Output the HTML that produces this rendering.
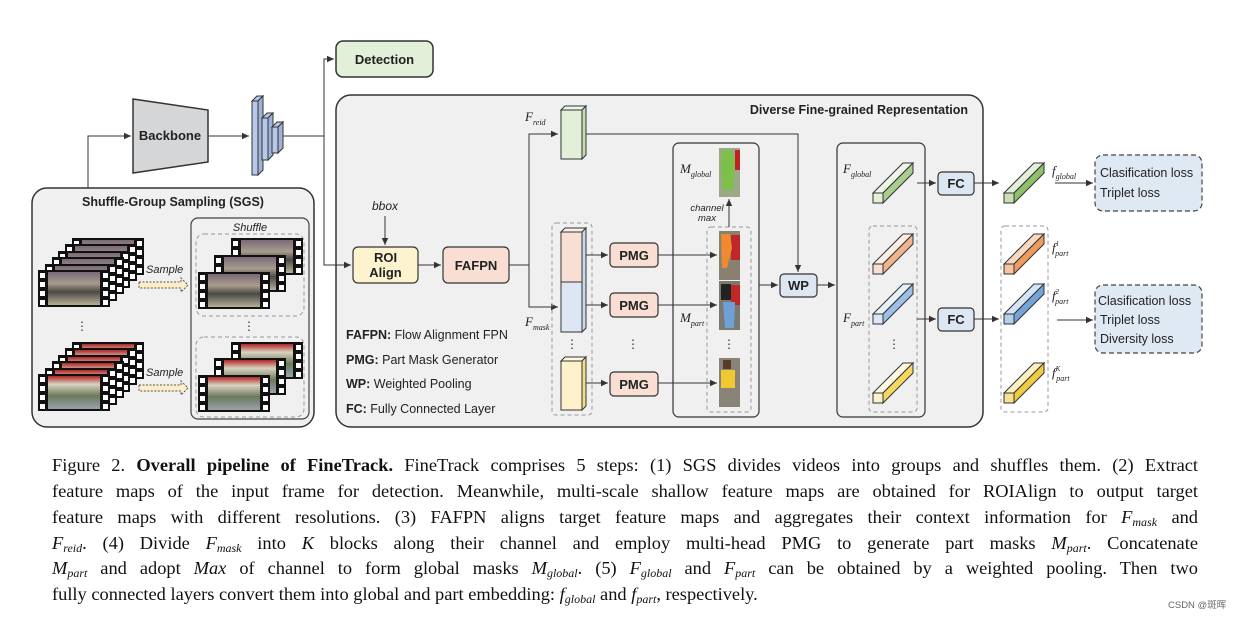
<!DOCTYPE html>
<html><head><meta charset="utf-8"><style>
body{margin:0;background:#fff;width:1248px;height:618px;overflow:hidden;position:relative}
svg{position:absolute;left:0;top:0}
.t{font-family:"Liberation Sans",sans-serif}
.cap{position:absolute;left:52px;width:1146px;font-family:"Liberation Serif",serif;font-size:18.4px;color:#111;text-align:justify;text-align-last:justify;white-space:nowrap;line-height:26px}
.cap i{font-style:italic}
.cap sub{font-size:12px;font-style:italic;vertical-align:-3px;line-height:0}
</style></head><body>
<svg width="1248" height="618" viewBox="0 0 1248 618">
<defs>
<marker id="a" markerWidth="8" markerHeight="8" refX="7" refY="4" orient="auto" markerUnits="userSpaceOnUse"><path d="M0,0.8 L7,4 L0,7.2z" fill="#333"/></marker>
<linearGradient id="img1" x1="0" y1="0" x2="0" y2="1"><stop offset="0" stop-color="#7a6a78"/><stop offset="0.35" stop-color="#a89c8c"/><stop offset="0.6" stop-color="#4a4a44"/><stop offset="1" stop-color="#b8ad98"/></linearGradient>
<linearGradient id="img2" x1="0" y1="0" x2="0" y2="1"><stop offset="0" stop-color="#b02828"/><stop offset="0.25" stop-color="#d9d2c0"/><stop offset="0.6" stop-color="#6b7a5a"/><stop offset="1" stop-color="#9aa2ac"/></linearGradient>
<symbol id="f1" viewBox="0 0 72 37" width="72" height="37"><rect width="72" height="37" fill="#111"/><rect x="10" y="2" width="52" height="33" fill="url(#img1)"/><g fill="#fff"><rect x="2" y="3" width="5" height="5"/><rect x="2" y="12" width="5" height="5"/><rect x="2" y="21" width="5" height="5"/><rect x="2" y="30" width="5" height="5"/><rect x="65" y="3" width="5" height="5"/><rect x="65" y="12" width="5" height="5"/><rect x="65" y="21" width="5" height="5"/><rect x="65" y="30" width="5" height="5"/></g></symbol>
<symbol id="f2" viewBox="0 0 72 37" width="72" height="37"><rect width="72" height="37" fill="#111"/><rect x="10" y="2" width="52" height="33" fill="url(#img2)"/><g fill="#fff"><rect x="2" y="3" width="5" height="5"/><rect x="2" y="12" width="5" height="5"/><rect x="2" y="21" width="5" height="5"/><rect x="2" y="30" width="5" height="5"/><rect x="65" y="3" width="5" height="5"/><rect x="65" y="12" width="5" height="5"/><rect x="65" y="21" width="5" height="5"/><rect x="65" y="30" width="5" height="5"/></g></symbol>
</defs>

<rect x="32" y="188" width="282" height="239" rx="15" fill="#f0f0f0" stroke="#333" stroke-width="1.5"/>
<rect x="336" y="95" width="647" height="332" rx="15" fill="#f0f0f0" stroke="#333" stroke-width="1.5"/>
<rect x="336" y="41" width="97" height="36" rx="7" fill="#e2efd9" stroke="#333" stroke-width="1.5"/>
<text x="384.5" y="64" class="t" font-size="13" font-weight="bold" text-anchor="middle" fill="#222">Detection</text>

<polygon points="133,99 208,110 208,162 133,173" fill="#d5d6d8" stroke="#333" stroke-width="1.5"/>
<text x="170" y="140" class="t" font-size="13" font-weight="bold" text-anchor="middle" fill="#222">Backbone</text>
<path d="M88,188 V136 H131" fill="none" stroke="#333" marker-end="url(#a)"/>
<path d="M208,136 H249" fill="none" stroke="#333" marker-end="url(#a)"/>
<g stroke="#333" stroke-width="1" fill="#b8c8e8">
<polygon points="252,101 257,96 263,96 258,101"/><polygon points="258,101 263,96 263,170 258,175" fill="#9fb2d8"/><rect x="252" y="101" width="6" height="74"/>
<polygon points="262,118 267,113 273,113 268,118"/><polygon points="268,118 273,113 273,155 268,160" fill="#9fb2d8"/><rect x="262" y="118" width="6" height="42"/>
<polygon points="272,127 277,122 283,122 278,127"/><polygon points="278,127 283,122 283,148 278,153" fill="#9fb2d8"/><rect x="272" y="127" width="6" height="26"/>
</g>
<path d="M283,136 H324 M324,136 V59 H334" fill="none" stroke="#333" marker-end="url(#a)"/>
<path d="M324,136 V265 H351" fill="none" stroke="#333" marker-end="url(#a)"/>

<text x="173" y="206" class="t" font-size="12.5" font-weight="bold" text-anchor="middle" fill="#222">Shuffle-Group Sampling (SGS)</text>
<rect x="191" y="218" width="118" height="201" rx="7" fill="none" stroke="#444" stroke-width="1.2"/>
<text x="250" y="231" class="t" font-size="11" font-style="italic" text-anchor="middle" fill="#222">Shuffle</text>
<rect x="196" y="234" width="108" height="82" rx="8" fill="none" stroke="#999" stroke-dasharray="4,3"/>
<rect x="196" y="337" width="108" height="80" rx="8" fill="none" stroke="#999" stroke-dasharray="4,3"/>
<use href="#f1" x="72" y="238"/><use href="#f1" x="65" y="244"/><use href="#f1" x="58" y="251"/><use href="#f1" x="52" y="257"/><use href="#f1" x="45" y="264"/><use href="#f1" x="38" y="270"/>
<use href="#f2" x="72" y="342"/><use href="#f2" x="65" y="348"/><use href="#f2" x="58" y="355"/><use href="#f2" x="52" y="361"/><use href="#f2" x="45" y="368"/><use href="#f2" x="38" y="374"/>
<use href="#f1" x="231" y="238"/><use href="#f1" x="214" y="255"/><use href="#f1" x="198" y="272"/>
<use href="#f2" x="231" y="342"/><use href="#f2" x="214" y="358"/><use href="#f2" x="198" y="375"/>
<g font-size="11" font-style="italic" class="t" fill="#222"><text x="146" y="273">Sample</text><text x="146" y="376">Sample</text></g>
<polygon points="139,282 181,282 181,278 188,285 181,292 181,288 139,288" fill="#fbeec8" stroke="#555" stroke-dasharray="2,1.5"/>
<polygon points="139,385 181,385 181,381 188,388 181,395 181,391 139,391" fill="#fbeec8" stroke="#555" stroke-dasharray="2,1.5"/>
<g fill="#333" font-size="12" class="t" text-anchor="middle"><text x="82" y="330">⋮</text><text x="249" y="330">⋮</text></g>

<text x="385" y="210" class="t" font-size="12" font-style="italic" text-anchor="middle" fill="#222">bbox</text>
<path d="M385,216 V245" fill="none" stroke="#333" marker-end="url(#a)"/>
<rect x="353" y="247" width="65" height="36" rx="5" fill="#fdf3cf" stroke="#333" stroke-width="1.2"/>
<text x="385.5" y="262" class="t" font-size="13" font-weight="bold" text-anchor="middle" fill="#222">ROI</text>
<text x="385.5" y="277" class="t" font-size="13" font-weight="bold" text-anchor="middle" fill="#222">Align</text>
<path d="M418,265 H441" fill="none" stroke="#333" marker-end="url(#a)"/>
<rect x="443" y="247" width="66" height="36" rx="5" fill="#f9dfd3" stroke="#333" stroke-width="1.2"/>
<text x="476" y="270" class="t" font-size="13" font-weight="bold" text-anchor="middle" fill="#222">FAFPN</text>
<path d="M509,265 H529 M529,265 V134 H558" fill="none" stroke="#333" marker-end="url(#a)"/>
<path d="M529,265 V307 H558" fill="none" stroke="#333" marker-end="url(#a)"/>
<g class="t" font-size="12.5" fill="#222">
<text x="346" y="339"><tspan font-weight="bold">FAFPN:</tspan> Flow Alignment FPN</text>
<text x="346" y="364"><tspan font-weight="bold">PMG:</tspan> Part Mask Generator</text>
<text x="346" y="388"><tspan font-weight="bold">WP:</tspan> Weighted Pooling</text>
<text x="346" y="413"><tspan font-weight="bold">FC:</tspan> Fully Connected Layer</text>
</g>
<text x="968" y="114" class="t" font-size="12.5" font-weight="bold" fill="#222" text-anchor="end">Diverse Fine-grained Representation</text>

<g font-family="Liberation Serif,serif" font-style="italic" fill="#222">
<text x="525" y="121" font-size="13">F<tspan font-size="8" dy="4">reid</tspan></text>
<text x="525" y="326" font-size="13">F<tspan font-size="8" dy="4">mask</tspan></text>
<text x="680" y="173" font-size="13">M<tspan font-size="8" dy="4">global</tspan></text>
<text x="680" y="322" font-size="13">M<tspan font-size="8" dy="4">part</tspan></text>
<text x="843" y="173" font-size="13">F<tspan font-size="8" dy="4">global</tspan></text>
<text x="843" y="322" font-size="13">F<tspan font-size="8" dy="4">part</tspan></text>
<text x="1052" y="175" font-size="13">f<tspan font-size="8" dy="4">global</tspan></text>
<text x="1052" y="252" font-size="13">f<tspan font-size="7" dy="-6">1</tspan><tspan font-size="8" dx="-4" dy="10">part</tspan></text>
<text x="1052" y="300" font-size="13">f<tspan font-size="7" dy="-6">2</tspan><tspan font-size="8" dx="-4" dy="10">part</tspan></text>
<text x="1052" y="377" font-size="13">f<tspan font-size="7" dy="-6">K</tspan><tspan font-size="8" dx="-4" dy="10">part</tspan></text>
</g>

<g stroke="#333" stroke-width="1">
<polygon points="561,110 565,106 586,106 582,110" fill="#eef6e8"/><polygon points="582,110 586,106 586,155 582,159" fill="#c4dcb0"/><rect x="561" y="110" width="21" height="49" fill="#e2efd9"/>
</g>
<path d="M586,134 H798 V272" fill="none" stroke="#333" marker-end="url(#a)"/>

<rect x="552" y="223" width="40" height="192" rx="4" fill="none" stroke="#999" stroke-dasharray="4,3"/>
<g stroke="#333" stroke-width="1">
<polygon points="561,232 565,228 586,228 582,232" fill="#fbeee6"/><polygon points="582,232 586,228 586,328 582,332" fill="#c9d8ea"/>
<rect x="561" y="232" width="21" height="50" fill="#f9dfd3"/><rect x="561" y="282" width="21" height="50" fill="#dce7f3"/>
<polygon points="561,361 565,357 586,357 582,361" fill="#fff8e0"/><polygon points="582,361 586,357 586,406 582,410" fill="#f1de8a"/><rect x="561" y="361" width="21" height="49" fill="#fdf1cc"/>
</g>
<g fill="#333" font-size="12" class="t" text-anchor="middle"><text x="572" y="348">⋮</text><text x="633" y="348">⋮</text><text x="729" y="348">⋮</text><text x="894" y="348">⋮</text><text x="1024" y="348">⋮</text></g>

<g stroke="#333" fill="none"><path d="M586,255 H608" marker-end="url(#a)"/><path d="M586,305 H608" marker-end="url(#a)"/><path d="M586,383 H608" marker-end="url(#a)"/></g>
<g stroke="#333" stroke-width="1.2" fill="#f9dfd3"><rect x="610" y="243" width="48" height="24" rx="4"/><rect x="610" y="293" width="48" height="24" rx="4"/><rect x="610" y="372" width="48" height="24" rx="4"/></g>
<g class="t" font-size="13" font-weight="bold" fill="#222" text-anchor="middle"><text x="634" y="260">PMG</text><text x="634" y="310">PMG</text><text x="634" y="389">PMG</text></g>
<g stroke="#333" fill="none"><path d="M658,255 H717" marker-end="url(#a)"/><path d="M658,305 H717" marker-end="url(#a)"/><path d="M658,383 H717" marker-end="url(#a)"/></g>

<rect x="673" y="143" width="86" height="274" rx="6" fill="none" stroke="#333" stroke-width="1.2"/>
<rect x="707" y="227" width="44" height="185" rx="4" fill="none" stroke="#999" stroke-dasharray="4,3"/>
<rect x="719" y="148" width="21" height="49" fill="#9aaa88"/><path d="M722,150 h10 l3,10 -2,30 h-10 l-2,-25z" fill="#7cc04a"/><rect x="735" y="150" width="5" height="20" fill="#c02020"/>
<rect x="719" y="231" width="21" height="49" fill="#8a8070"/><rect x="731" y="235" width="9" height="25" fill="#c02828"/><path d="M721,234 h9 l2,14 -5,20 h-5z" fill="#f08a30"/>
<rect x="719" y="281" width="21" height="49" fill="#7a7a70"/><rect x="731" y="285" width="9" height="20" fill="#c02828"/><path d="M721,284 h10 v16 h-10z" fill="#222"/><path d="M723,302 h12 l-1,26 h-9z" fill="#6fa0d8"/>
<rect x="719" y="358" width="21" height="49" fill="#8a8478"/><path d="M721,370 h14 v18 h-14z" fill="#f0c830"/><rect x="723" y="360" width="8" height="9" fill="#5a3a2a"/>
<path d="M729,227 V199" fill="none" stroke="#333" marker-end="url(#a)"/>
<text x="707" y="211" class="t" font-size="9.5" font-style="italic" text-anchor="middle" fill="#222">channel</text>
<text x="707" y="221" class="t" font-size="9.5" font-style="italic" text-anchor="middle" fill="#222">max</text>
<path d="M759,285 H778" fill="none" stroke="#333" marker-end="url(#a)"/>
<rect x="780" y="274" width="37" height="23" rx="4" fill="#dce7f3" stroke="#333" stroke-width="1.2"/>
<text x="798.5" y="290" class="t" font-size="13" font-weight="bold" text-anchor="middle" fill="#222">WP</text>
<path d="M817,285 H835" fill="none" stroke="#333" marker-end="url(#a)"/>

<rect x="837" y="143" width="88" height="274" rx="6" fill="none" stroke="#333" stroke-width="1.2"/>
<rect x="869" y="226" width="48" height="186" rx="4" fill="none" stroke="#999" stroke-dasharray="4,3"/>
<rect x="1001" y="226" width="47" height="186" rx="4" fill="#fff" stroke="#999" stroke-dasharray="4,3"/>
<g stroke="#333" stroke-width="1">
<g transform="translate(873,193)"><polygon points="0,0 10,0 40,-30 30,-30" fill="#eef6e8"/><polygon points="10,0 10,10 40,-20 40,-30" fill="#a9cf8e"/><rect width="10" height="10" fill="#e2efd9"/></g>
<g transform="translate(873,264)"><polygon points="0,0 10,0 40,-30 30,-30" fill="#fbeee6"/><polygon points="10,0 10,10 40,-20 40,-30" fill="#f2b48a"/><rect width="10" height="10" fill="#f9dfd3"/></g>
<g transform="translate(873,314)"><polygon points="0,0 10,0 40,-30 30,-30" fill="#e8f0f8"/><polygon points="10,0 10,10 40,-20 40,-30" fill="#9cc0e6"/><rect width="10" height="10" fill="#dce7f3"/></g>
<g transform="translate(873,393)"><polygon points="0,0 10,0 40,-30 30,-30" fill="#fffbe6"/><polygon points="10,0 10,10 40,-20 40,-30" fill="#f5d860"/><rect width="10" height="10" fill="#fdf1cc"/></g>
<g transform="translate(1004,193)"><polygon points="0,0 10,0 40,-30 30,-30" fill="#e2efd9"/><polygon points="10,0 10,10 40,-20 40,-30" fill="#8fc06a"/><rect width="10" height="10" fill="#c8e0b4"/></g>
<g transform="translate(1004,264)"><polygon points="0,0 10,0 40,-30 30,-30" fill="#f9d8c2"/><polygon points="10,0 10,10 40,-20 40,-30" fill="#ee9a60"/><rect width="10" height="10" fill="#f6c4a4"/></g>
<g transform="translate(1004,314)"><polygon points="0,0 10,0 40,-30 30,-30" fill="#d4e4f4"/><polygon points="10,0 10,10 40,-20 40,-30" fill="#74a4d8"/><rect width="10" height="10" fill="#b4d0ec"/></g>
<g transform="translate(1004,393)"><polygon points="0,0 10,0 40,-30 30,-30" fill="#fdf0c0"/><polygon points="10,0 10,10 40,-20 40,-30" fill="#f0cc40"/><rect width="10" height="10" fill="#f8e090"/></g>
</g>
<g stroke="#333" fill="none"><path d="M917,183 H936" marker-end="url(#a)"/><path d="M917,319 H936" marker-end="url(#a)"/><path d="M974,183 H999" marker-end="url(#a)"/><path d="M974,319 H999" marker-end="url(#a)"/>
<path d="M1055,183 H1093" marker-end="url(#a)"/><path d="M1057,320 H1093" marker-end="url(#a)"/></g>
<g stroke="#333" stroke-width="1.2" fill="#dce7f3"><rect x="938" y="172" width="36" height="23" rx="4"/><rect x="938" y="308" width="36" height="23" rx="4"/></g>
<g class="t" font-size="13" font-weight="bold" fill="#222" text-anchor="middle"><text x="956" y="188">FC</text><text x="956" y="324">FC</text></g>

<rect x="1095" y="155" width="107" height="56" rx="8" fill="#dfe9f3" stroke="#444" stroke-width="1.2" stroke-dasharray="5,3"/>
<rect x="1095" y="285" width="107" height="68" rx="8" fill="#dfe9f3" stroke="#444" stroke-width="1.2" stroke-dasharray="5,3"/>
<g class="t" font-size="12.5" fill="#222"><text x="1100" y="177">Clasification loss</text><text x="1100" y="197">Triplet loss</text>
<text x="1098" y="305">Clasification loss</text><text x="1100" y="324">Triplet loss</text><text x="1100" y="343">Diversity loss</text></g>
<text x="1168" y="608" class="t" font-size="9.5" fill="#666">CSDN @斑晖</text>
</svg>
<div class="cap" style="top:452px">Figure 2. <b>Overall pipeline of FineTrack.</b> FineTrack comprises 5 steps: (1) SGS divides videos into groups and shuffles them. (2) Extract</div>
<div class="cap" style="top:478px">feature maps of the input frame for detection. Meanwhile, multi-scale shallow feature maps are obtained for ROIAlign to output target</div>
<div class="cap" style="top:504px">feature maps with different resolutions. (3) FAFPN aligns target feature maps and aggregates their context information for <i>F</i><sub>mask</sub> and</div>
<div class="cap" style="top:530px"><i>F</i><sub>reid</sub>. (4) Divide <i>F</i><sub>mask</sub> into <i>K</i> blocks along their channel and employ multi-head PMG to generate part masks <i>M</i><sub>part</sub>. Concatenate</div>
<div class="cap" style="top:555px"><i>M</i><sub>part</sub> and adopt <i>Max</i> of channel to form global masks <i>M</i><sub>global</sub>. (5) <i>F</i><sub>global</sub> and <i>F</i><sub>part</sub> can be obtained by a weighted pooling. Then two</div>
<div class="cap" style="top:581px;width:auto;text-align-last:auto">fully connected layers convert them into global and part embedding: <i>f</i><sub>global</sub> and <i>f</i><sub>part</sub>, respectively.</div>
</body></html>
